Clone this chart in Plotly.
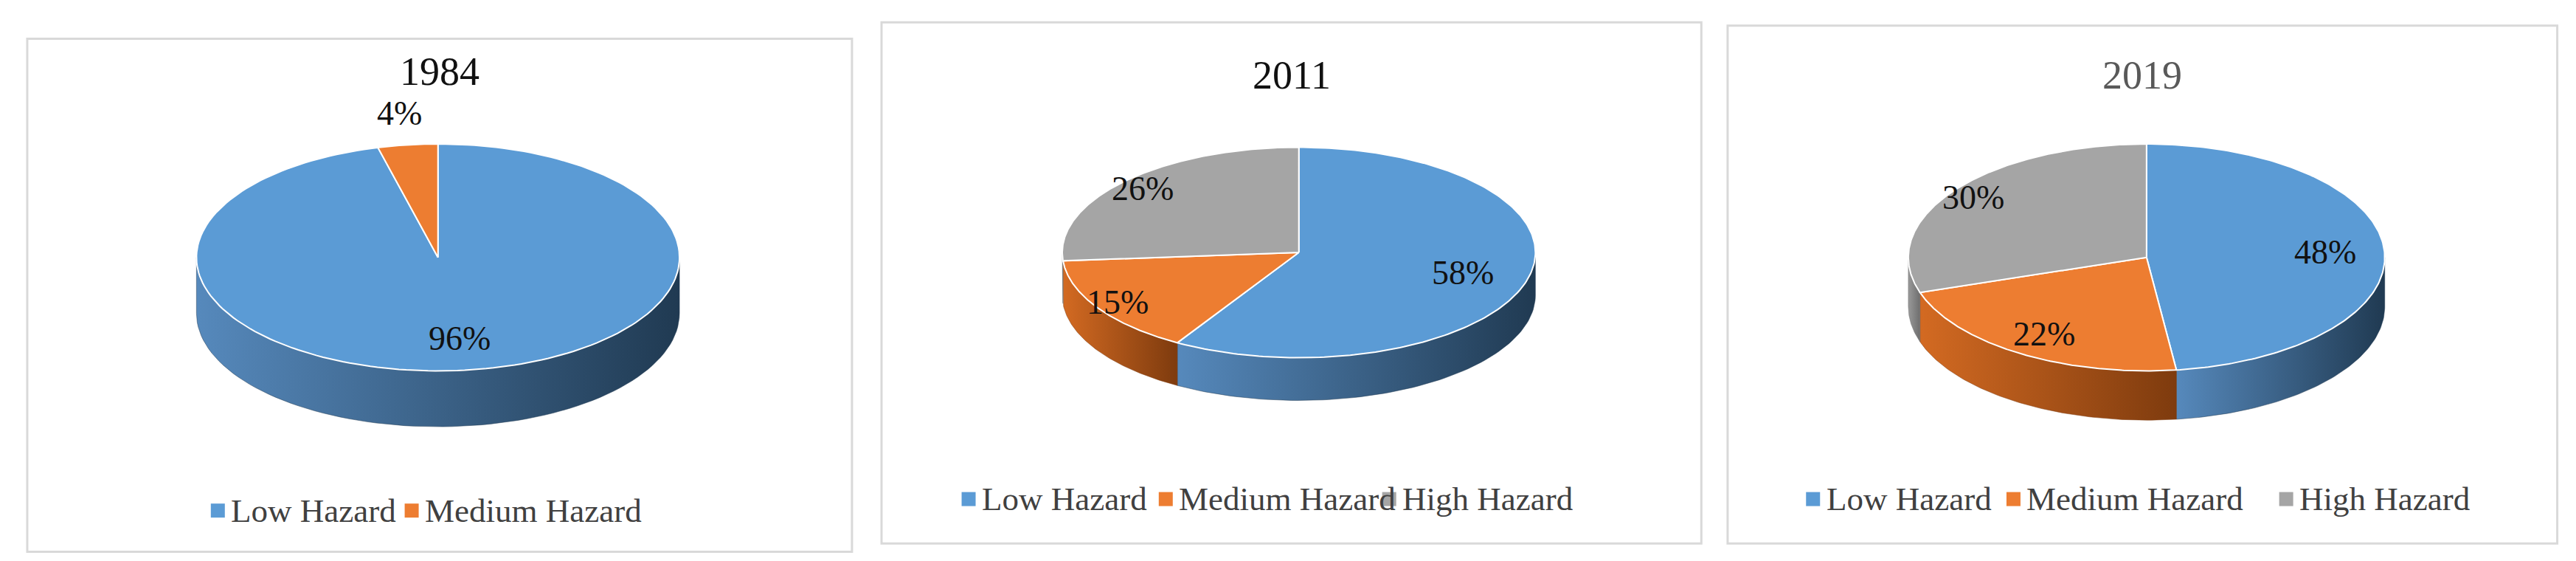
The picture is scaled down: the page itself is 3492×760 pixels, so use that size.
import numpy as np
import plotly.graph_objects as go

titles = ["1984", "2011", "2019"]
categories = ["Low Hazard", "Medium Hazard", "High Hazard"]
values = [[96, 4], [58, 15, 26], [48, 22, 30]]
label_r = [[0.72, 1.28], [0.72, 0.9, 0.9], [0.75, 0.8, 0.9]]

S = 3492 / 1568
panels = [(13, 20, 515, 332), (533, 10, 1032, 327), (1048, 12, 1553, 327)]
pies = [(263, 153, 147, 69, 34), (787, 150, 144, 64, 26), (1303, 153, 145, 69, 30)]
title_y = [40, 42, 42]
legend_y = [307, 300, 300]
legend_x = [[129, 247], [586, 706, 842], [1100, 1222, 1388]]
top_col = ["#5B9BD5", "#ED7D31", "#A5A5A5"]
side_cols = [("#5689BC", "#203A52"), ("#D36A22", "#7E3B0E"), ("#999999", "#6E6E6E")]
title_col = ["#111111", "#111111", "#595959"]
FONT = "Liberation Serif, Times New Roman, serif"

fig = go.Figure()
ann = []
shapes = []

def pt(cx, cy, rx, ry, th, dz=0):
    return cx + rx * np.sin(th), cy - ry * np.cos(th) + dz

for p in range(3):
    x0, y0, x1, y1 = [v * S for v in panels[p]]
    shapes.append(dict(type="rect", x0=x0, y0=y0, x1=x1, y1=y1, line=dict(color="#D9D9D9", width=3), layer="below"))
    cx, cy, rx, ry, d = [v * S for v in pies[p]]
    vals = np.array(values[p], float)
    fr = np.concatenate([[0], np.cumsum(vals) / vals.sum()]) * 2 * np.pi
    for i in range(len(vals)):
        a, b = max(fr[i], np.pi / 2), min(fr[i + 1], 3 * np.pi / 2)
        if b <= a:
            continue
        th = np.linspace(a, b, 80)
        tx, ty = pt(cx, cy, rx, ry, th)
        bx, by = pt(cx, cy, rx, ry, th[::-1], d)
        xs = np.concatenate([tx, bx, tx[:1]])
        ys = np.concatenate([ty, by, ty[:1]])
        c0, c1 = side_cols[i]
        fig.add_trace(go.Scatter(x=xs, y=ys, mode="lines", fill="toself", line=dict(width=0.5, color=c1),
                                 fillgradient=dict(type="horizontal", colorscale=[[0, c0], [1, c1]]),
                                 hoverinfo="skip", showlegend=False))
    for i in range(len(vals)):
        th = np.linspace(fr[i], fr[i + 1], 200)
        tx, ty = pt(cx, cy, rx, ry, th)
        xs = np.concatenate([[cx], tx, [cx]])
        ys = np.concatenate([[cy], ty, [cy]])
        fig.add_trace(go.Scatter(x=xs, y=ys, mode="lines", fill="toself", fillcolor=top_col[i],
                                 line=dict(width=2, color="white"), hoverinfo="skip", showlegend=False))
        mid = (fr[i] + fr[i + 1]) / 2
        lx, ly = pt(cx, cy, rx * label_r[p][i], ry * label_r[p][i], mid)
        ann.append(dict(x=lx, y=ly, text=f"{int(vals[i])}%", showarrow=False,
                        font=dict(family=FONT, size=46, color="#111111")))
    ann.append(dict(x=(x0 + x1) / 2, y=title_y[p] * S, text=titles[p], showarrow=False,
                    font=dict(family=FONT, size=54, color=title_col[p])))
    for i in range(len(vals)):
        lx = legend_x[p][i] * S
        ly = legend_y[p] * S
        fig.add_trace(go.Scatter(x=[lx], y=[ly], mode="markers", marker=dict(symbol="square", size=19, color=top_col[i]),
                                 hoverinfo="skip", showlegend=False))
        ann.append(dict(x=lx + 16, y=ly, text=categories[i], showarrow=False, xanchor="left",
                        font=dict(family=FONT, size=45, color="#404040")))

fig.update_layout(width=3492, height=760, margin=dict(l=0, r=0, t=0, b=0),
                  plot_bgcolor="white", paper_bgcolor="white", annotations=ann, shapes=shapes,
                  xaxis=dict(range=[0, 3492], visible=False, fixedrange=True),
                  yaxis=dict(range=[760, 0], visible=False, fixedrange=True))
fig.write_html("out.html")
